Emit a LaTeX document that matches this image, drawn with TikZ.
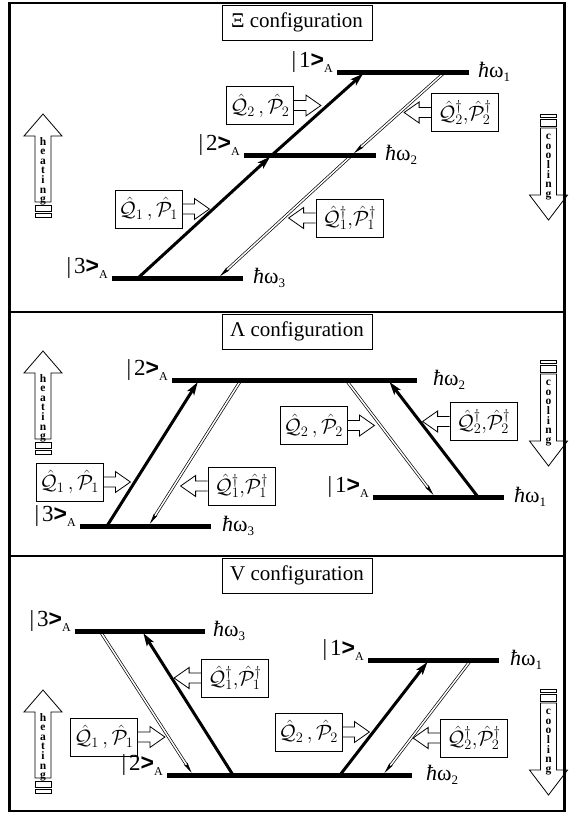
\documentclass[tikz,border=0pt]{standalone}
\usepackage{fontspec}
\setmainfont{Liberation Serif}
\newfontfamily\chevronfont{Liberation Sans}
\usetikzlibrary{arrows.meta}

% state label |n>_A and energy label hbar omega_n
\newcommand\statelabel[1]{|\hspace{3pt}#1{\chevronfont\bfseries >}\raisebox{-5pt}{\fontsize{12}{12}\selectfont A}}
\newcommand\energylabel[1]{{\itshape ħ}ω\raisebox{-4pt}{\fontsize{13}{13}\selectfont #1}}
\newcommand\opsQP[1]{$\hat{\mathcal{Q}}_{#1}\,{,}\,\hat{\mathcal{P}}_{#1}$}
\newcommand\opsQPdag[1]{$\hat{\mathcal{Q}}_{#1}^{\dagger}{,}\hat{\mathcal{P}}_{#1}^{\dagger}$}

\tikzset{
  frameline/.style={line width=2.4},
  levelline/.style={line width=5},
  uptrans/.style={line width=3, shorten >=2.5pt, -{Stealth[length=13, width=8, inset=3]}},
  downtrans/.style={double, line width=0.7, double distance=1.5, shorten >=2.5pt, -{Stealth[length=11, width=4, inset=2]}},
  titlebox/.style={draw, line width=0.8, minimum width=150, minimum height=35, inner sep=0, font=\fontsize{21}{24}\selectfont},
  opbox/.style={draw, line width=0.8, minimum width=67, minimum height=38, inner sep=0, font=\fontsize{22}{24}\selectfont},
  blockline/.style={line width=0.8, line join=miter},
  statelbl/.style={anchor=base east, inner sep=0, font=\fontsize{23}{25}\selectfont},
  energylbl/.style={anchor=base west, inner sep=0, font=\fontsize{22}{24}\selectfont},
  hcletters/.style={anchor=north, inner sep=0, align=center, font=\fontsize{11.5}{9.6}\selectfont\bfseries},
  pics/blockR/.style={code={\draw[blockline] (0,-5)--(12,-5)--(12,-10.5)--(27,0)--(12,10.5)--(12,5)--(0,5);}},
  pics/blockL/.style={code={\draw[blockline] (0,-5)--(-12,-5)--(-12,-10.5)--(-27,0)--(-12,10.5)--(-12,5)--(0,5);}},
  pics/heating/.style={code={
    \draw[blockline] (0,0)--(19,22)--(8,22)--(8,88)--(-8,88)--(-8,22)--(-19,22)--cycle;
    \draw[blockline] (-8,91) rectangle (8,97);
    \draw[blockline] (-8,99) rectangle (8,103);
    \node[hcletters] (-txt) at (0,23) {h\\e\\a\\t\\i\\n\\g};
  }},
  pics/cooling/.style={code={
    \draw[blockline] (-8,0) rectangle (8,3);
    \draw[blockline] (-8,5) rectangle (8,12);
    \draw[blockline] (-8,14)--(8,14)--(8,81)--(19,81)--(0,106)--(-19,81)--(-8,81)--cycle;
    \node[hcletters] (-txt) at (0,20) {c\\o\\o\\l\\i\\n\\g};
  }},
}

\begin{document}
\begin{tikzpicture}[x=1pt, y=-1pt]
\useasboundingbox (0,0) rectangle (568,814);

% outer frame and panel dividers
\draw[frameline] (9.5,3) rectangle (564.5,811);
\draw[frameline] (9.5,312) -- (564.5,312);
\draw[frameline] (9.5,556) -- (564.5,556);

% ---------------- Xi configuration ----------------
\node[titlebox] (xiTitle) at (297,22.5) {Ξ configuration};

\coordinate (xiL1a) at (337,72);  \coordinate (xiL1b) at (469,72);
\coordinate (xiL2a) at (244,155); \coordinate (xiL2b) at (376,155);
\coordinate (xiL3a) at (112,278); \coordinate (xiL3b) at (243,278);

\coordinate (xiU3) at (138,278); \coordinate (xiU2) at (272,155); \coordinate (xiU1) at (365,72);
\coordinate (xiD1) at (445,72);  \coordinate (xiD2) at (352,155); \coordinate (xiD3) at (218,278);

\draw[uptrans] (xiU3) -- (xiU2);
\draw[uptrans] (xiU2) -- (xiU1);
\draw[downtrans] (xiD1) -- (xiD2);
\draw[downtrans] (xiD2) -- (xiD3);

\draw[levelline] (xiL1a) -- (xiL1b);
\draw[levelline] (xiL2a) -- (xiL2b);
\draw[levelline] (xiL3a) -- (xiL3b);

\node[statelbl] (xiS1) at (333,67) {\statelabel{1}};
\node[statelbl] (xiS2) at (240,150) {\statelabel{2}};
\node[statelbl] (xiS3) at (108,273) {\statelabel{3}};
\node[energylbl] (xiE1) at (478,77) {\energylabel{1}};
\node[energylbl] (xiE2) at (385,160) {\energylabel{2}};
\node[energylbl] (xiE3) at (253,283) {\energylabel{3}};

\node[opbox] (xiQ2) at (260,105.5) {\opsQP{2}};
\node[opbox] (xiQ1) at (148.5,209) {\opsQP{1}};
\node[opbox] (xiQ2d) at (465,112.5) {\opsQPdag{2}};
\node[opbox] (xiQ1d) at (349.5,218) {\opsQPdag{1}};
\pic at (xiQ2.east) {blockR};
\pic at (xiQ1.east) {blockR};
\pic at (xiQ2d.west) {blockL};
\pic at (xiQ1d.west) {blockL};

\pic (xiHeat) at (43,114) {heating};
\pic (xiCool) at (548.5,114) {cooling};

% ---------------- Lambda configuration ----------------
\node[titlebox] (laTitle) at (297,331.5) {Λ configuration};

\coordinate (laL2a) at (172,380); \coordinate (laL2b) at (417,380);
\coordinate (laL3a) at (80,526);  \coordinate (laL3b) at (211,526);
\coordinate (laL1a) at (373,497); \coordinate (laL1b) at (504,497);

\coordinate (laU3) at (107,526);   \coordinate (laU2l) at (199,380);
\coordinate (laD2l) at (241,380);  \coordinate (laD3) at (148.5,526);
\coordinate (laD2r) at (346,380);  \coordinate (laD1) at (435,497);
\coordinate (laU1) at (478,497);   \coordinate (laU2r) at (388,380);

\draw[uptrans] (laU3) -- (laU2l);
\draw[downtrans] (laD2l) -- (laD3);
\draw[downtrans] (laD2r) -- (laD1);
\draw[uptrans] (laU1) -- (laU2r);

\draw[levelline] (laL2a) -- (laL2b);
\draw[levelline] (laL3a) -- (laL3b);
\draw[levelline] (laL1a) -- (laL1b);

\node[statelbl] (laS2) at (168,375) {\statelabel{2}};
\node[statelbl] (laS3) at (76,521) {\statelabel{3}};
\node[statelbl] (laS1) at (369,492) {\statelabel{1}};
\node[energylbl] (laE2) at (433,385) {\energylabel{2}};
\node[energylbl] (laE3) at (222,531) {\energylabel{3}};
\node[energylbl] (laE1) at (514,502) {\energylabel{1}};

\node[opbox] (laQ1) at (69.5,482) {\opsQP{1}};
\node[opbox] (laQ1d) at (241.5,486) {\opsQPdag{1}};
\node[opbox] (laQ2) at (313.5,425.5) {\opsQP{2}};
\node[opbox] (laQ2d) at (483.5,421.5) {\opsQPdag{2}};
\pic at (laQ1.east) {blockR};
\pic at (laQ1d.west) {blockL};
\pic at (laQ2.east) {blockR};
\pic at (laQ2d.west) {blockL};

\pic (laHeat) at (43,351) {heating};
\pic (laCool) at (548.5,360) {cooling};

% ---------------- V configuration ----------------
\node[titlebox] (vTitle) at (297,575.5) {V configuration};

\coordinate (vL3a) at (75,631);  \coordinate (vL3b) at (205,631);
\coordinate (vL1a) at (368,660); \coordinate (vL1b) at (499,660);
\coordinate (vL2a) at (167,775); \coordinate (vL2b) at (412,775);

\coordinate (vD3) at (100,631);  \coordinate (vD2l) at (193,775);
\coordinate (vU2l) at (233,775); \coordinate (vU3) at (142,631);
\coordinate (vU2r) at (340,775); \coordinate (vU1) at (429,660);
\coordinate (vD1) at (471,660);  \coordinate (vD2r) at (383,775);

\draw[downtrans] (vD3) -- (vD2l);
\draw[uptrans] (vU2l) -- (vU3);
\draw[uptrans] (vU2r) -- (vU1);
\draw[downtrans] (vD1) -- (vD2r);

\draw[levelline] (vL3a) -- (vL3b);
\draw[levelline] (vL1a) -- (vL1b);
\draw[levelline] (vL2a) -- (vL2b);

\node[statelbl] (vS3) at (71,626) {\statelabel{3}};
\node[statelbl] (vS1) at (364,655) {\statelabel{1}};
\node[statelbl] (vS2) at (163,770) {\statelabel{2}};
\node[energylbl] (vE3) at (213,636) {\energylabel{3}};
\node[energylbl] (vE1) at (510,665) {\energylabel{1}};
\node[energylbl] (vE2) at (426,780) {\energylabel{2}};

\node[opbox] (vQ1d) at (235,678) {\opsQPdag{1}};
\node[opbox] (vQ1) at (104,737) {\opsQP{1}};
\node[opbox] (vQ2) at (308.5,732) {\opsQP{2}};
\node[opbox] (vQ2d) at (474,738) {\opsQPdag{2}};
\pic at (vQ1d.west) {blockL};
\pic at (vQ1.east) {blockR};
\pic at (vQ2.east) {blockR};
\pic at (vQ2d.west) {blockL};

\pic (vHeat) at (43,690) {heating};
\pic (vCool) at (548.5,689) {cooling};

\end{tikzpicture}
\end{document}
